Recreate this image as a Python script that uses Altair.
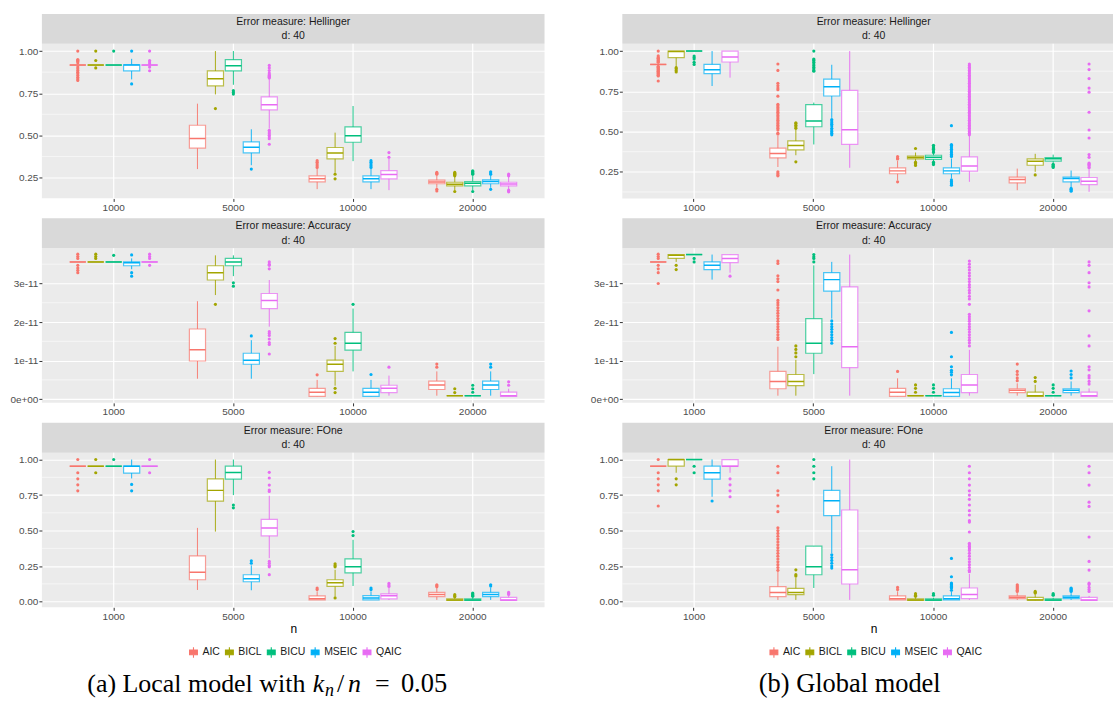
import altair as alt
import pandas as pd

METHODS = ["AIC", "BICL", "BICU", "MSEIC", "QAIC"]
N_VALUES = ["1000", "5000", "10000", "20000"]
COLORS = ["#F8766D", "#A3A500", "#00BF7D", "#00B0F6", "#E76BF3"]

# each box: (lower whisker, q1, median, q3, upper whisker, [outliers]); one row per n, one box per method
LOCAL_HELLINGER = [
    [(0.917, 0.917, 0.917, 0.917, 0.917, [1.0, 0.95, 0.945, 0.94, 0.93, 0.905, 0.895, 0.885, 0.875, 0.865, 0.855, 0.845, 0.835, 0.826]),
     (0.917, 0.917, 0.917, 0.917, 0.917, [1.0, 0.944, 0.90]),
     (0.917, 0.917, 0.917, 0.917, 0.917, [1.0]),
     (0.832, 0.882, 0.917, 0.919, 0.954, [1.0, 0.805]),
     (0.917, 0.917, 0.917, 0.917, 0.917, [1.0, 0.944, 0.935, 0.925, 0.905, 0.883])],
    [(0.30, 0.424, 0.481, 0.56, 0.688, []),
     (0.743, 0.793, 0.836, 0.882, 1.0, [0.659]),
     (0.80, 0.882, 0.913, 0.949, 1.0, [0.765, 0.755, 0.745]),
     (0.323, 0.396, 0.43, 0.461, 0.536, [0.30]),
     (0.54, 0.651, 0.682, 0.728, 0.835, [0.915, 0.90, 0.885, 0.87, 0.86, 0.855, 0.85, 0.845, 0.84, 0.53, 0.52, 0.51, 0.50, 0.49, 0.48, 0.447])],
    [(0.181, 0.224, 0.242, 0.26, 0.303, [0.35, 0.34, 0.33, 0.32, 0.31]),
     (0.28, 0.361, 0.396, 0.428, 0.516, [0.27, 0.242]),
     (0.347, 0.459, 0.497, 0.55, 0.674, []),
     (0.181, 0.224, 0.242, 0.26, 0.303, [0.35, 0.34, 0.33, 0.32, 0.31]),
     (0.175, 0.242, 0.268, 0.291, 0.368, [0.398, 0.37])],
    [(0.189, 0.213, 0.224, 0.234, 0.264, [0.28, 0.275, 0.27, 0.18, 0.17]),
     (0.175, 0.20, 0.21, 0.222, 0.254, [0.28, 0.275, 0.27, 0.265, 0.26, 0.167]),
     (0.175, 0.20, 0.216, 0.226, 0.264, [0.29, 0.285, 0.28, 0.275, 0.27, 0.167]),
     (0.189, 0.213, 0.226, 0.236, 0.264, [0.284, 0.277, 0.27, 0.18]),
     (0.18, 0.20, 0.212, 0.222, 0.255, [0.27, 0.265, 0.26, 0.175, 0.17, 0.165])],
]

GLOBAL_HELLINGER = [
    [(0.917, 0.917, 0.917, 0.917, 0.917, [1.0, 0.97, 0.96, 0.955, 0.95, 0.945, 0.94, 0.935, 0.93, 0.905, 0.90, 0.895, 0.89, 0.885, 0.88, 0.875, 0.87, 0.865, 0.86, 0.855, 0.85, 0.845, 0.814]),
     (0.90, 0.959, 0.998, 1.0, 1.0, [0.897, 0.89, 0.88, 0.87]),
     (1.0, 1.0, 1.0, 1.0, 1.0, [0.969, 0.96, 0.95, 0.93, 0.917]),
     (0.783, 0.86, 0.884, 0.917, 1.0, []),
     (0.835, 0.932, 0.963, 1.0, 1.0, [])],
    [(0.28, 0.337, 0.364, 0.397, 0.475, [0.92, 0.88, 0.80, 0.785, 0.77, 0.76, 0.72, 0.67, 0.66, 0.65, 0.64, 0.63, 0.62, 0.61, 0.60, 0.59, 0.58, 0.57, 0.56, 0.55, 0.54, 0.53, 0.52, 0.51, 0.49, 0.485, 0.25, 0.24, 0.23, 0.225]),
     (0.353, 0.386, 0.413, 0.442, 0.51, [0.555, 0.55, 0.54, 0.53, 0.52, 0.312]),
     (0.42, 0.53, 0.566, 0.667, 0.68, [1.0, 0.95, 0.945, 0.94, 0.93, 0.92, 0.91, 0.90, 0.89, 0.88, 0.875]),
     (0.585, 0.721, 0.779, 0.826, 0.915, [0.575, 0.565, 0.555, 0.545, 0.535, 0.52, 0.51, 0.50, 0.49, 0.48]),
     (0.275, 0.42, 0.512, 0.756, 1.0, [])],
    [(0.198, 0.238, 0.256, 0.275, 0.318, [0.345, 0.335, 0.33, 0.188]),
     (0.312, 0.331, 0.339, 0.347, 0.37, [0.395, 0.31, 0.305, 0.30, 0.29]),
     (0.315, 0.328, 0.341, 0.353, 0.365, [0.415, 0.41, 0.40, 0.395, 0.39, 0.38, 0.37, 0.31, 0.305, 0.30, 0.295]),
     (0.21, 0.238, 0.256, 0.275, 0.333, [0.537, 0.42, 0.415, 0.41, 0.40, 0.39, 0.38, 0.37, 0.36, 0.35, 0.345, 0.20, 0.19, 0.18, 0.175, 0.167]),
     (0.188, 0.254, 0.287, 0.343, 0.475, [0.92, 0.91, 0.90, 0.89, 0.88, 0.87, 0.86, 0.85, 0.84, 0.83, 0.82, 0.81, 0.80, 0.79, 0.78, 0.77, 0.76, 0.75, 0.74, 0.73, 0.72, 0.71, 0.70, 0.69, 0.68, 0.67, 0.66, 0.65, 0.64, 0.63, 0.62, 0.61, 0.60, 0.59, 0.58, 0.57, 0.56, 0.55, 0.54, 0.53, 0.52, 0.51, 0.50, 0.49, 0.48])],
    [(0.136, 0.182, 0.202, 0.217, 0.27, []),
     (0.25, 0.291, 0.316, 0.331, 0.362, [0.231]),
     (0.305, 0.316, 0.331, 0.339, 0.357, [0.297, 0.29, 0.285, 0.277]),
     (0.155, 0.188, 0.209, 0.217, 0.258, [0.147, 0.14, 0.137, 0.13]),
     (0.126, 0.171, 0.192, 0.215, 0.265, [0.92, 0.885, 0.829, 0.77, 0.745, 0.62, 0.51, 0.46, 0.357, 0.34, 0.305, 0.30, 0.295, 0.29, 0.28, 0.275])],
]

# Accuracy values are in units of 1e-11
LOCAL_ACCURACY = [
    [(3.56, 3.56, 3.56, 3.56, 3.56, [3.76, 3.70, 3.65, 3.47, 3.40, 3.34, 3.28]),
     (3.56, 3.56, 3.56, 3.56, 3.56, [3.76, 3.70, 3.65]),
     (3.56, 3.56, 3.56, 3.56, 3.56, [3.73]),
     (3.37, 3.46, 3.54, 3.56, 3.65, [3.74, 3.28, 3.19]),
     (3.56, 3.56, 3.56, 3.56, 3.56, [3.76, 3.70, 3.65, 3.47])],
    [(0.53, 0.99, 1.28, 1.82, 2.54, []),
     (2.70, 3.09, 3.28, 3.46, 3.73, [2.46]),
     (3.19, 3.46, 3.56, 3.65, 3.73, [3.02, 2.93]),
     (0.53, 0.905, 1.01, 1.19, 1.53, [1.64]),
     (1.88, 2.35, 2.56, 2.74, 3.09, [3.56, 3.50, 3.47, 3.38, 1.75, 1.70, 1.65, 1.56, 1.47, 1.42, 1.17])],
    [(0.07, 0.07, 0.18, 0.28, 0.50, [0.63]),
     (0.35, 0.72, 0.905, 1.01, 1.38, [1.57, 1.45, 0.28, 0.17]),
     (0.72, 1.27, 1.45, 1.73, 2.35, [2.46]),
     (0.07, 0.07, 0.18, 0.28, 0.50, [0.64]),
     (0.09, 0.17, 0.28, 0.36, 0.61, [0.83])],
    [(0.09, 0.25, 0.37, 0.47, 0.72, [0.91, 0.83]),
     (0.09, 0.09, 0.09, 0.09, 0.09, [0.27, 0.17]),
     (0.09, 0.09, 0.09, 0.09, 0.09, [0.36, 0.27, 0.18]),
     (0.09, 0.25, 0.37, 0.47, 0.72, [0.91, 0.83]),
     (0.07, 0.07, 0.09, 0.18, 0.27, [0.45, 0.36])],
]

GLOBAL_ACCURACY = [
    [(3.56, 3.56, 3.56, 3.56, 3.56, [3.76, 3.70, 3.65, 3.47, 3.38, 3.28, 3.0]),
     (3.56, 3.65, 3.73, 3.75, 3.75, [3.47, 3.36]),
     (3.75, 3.75, 3.75, 3.75, 3.75, [3.65, 3.56]),
     (3.10, 3.36, 3.47, 3.56, 3.75, []),
     (3.28, 3.54, 3.65, 3.75, 3.75, [3.19])],
    [(0.09, 0.27, 0.46, 0.72, 1.36, [3.58, 3.52, 3.20, 3.12, 3.05, 2.83, 2.56, 2.50, 2.44, 2.37, 2.30, 2.23, 2.16, 2.09, 2.02, 1.95, 1.88, 1.81, 1.74, 1.67, 1.60, 1.55]),
     (0.09, 0.35, 0.46, 0.64, 1.02, [1.38, 1.29, 1.20, 1.10]),
     (0.65, 1.19, 1.45, 2.09, 3.47, [3.75, 3.69, 3.65, 3.56]),
     (2.09, 2.80, 3.10, 3.28, 3.56, [2.03, 1.95, 1.88, 1.81, 1.74, 1.67, 1.60, 1.53, 1.45]),
     (0.09, 0.82, 1.36, 2.91, 3.75, [])],
    [(0.07, 0.07, 0.18, 0.28, 0.54, [0.72]),
     (0.09, 0.09, 0.09, 0.09, 0.09, [0.37, 0.28, 0.18]),
     (0.09, 0.09, 0.09, 0.09, 0.09, [0.37, 0.28, 0.18]),
     (0.07, 0.07, 0.17, 0.27, 0.54, [1.73, 1.10, 0.84, 0.75, 0.70, 0.63]),
     (0.09, 0.17, 0.37, 0.64, 1.28, [3.58, 3.50, 3.42, 3.35, 3.27, 3.20, 3.12, 3.05, 2.97, 2.90, 2.82, 2.75, 2.67, 2.60, 2.46, 2.20, 2.14, 2.08, 2.02, 1.95, 1.88, 1.81, 1.74, 1.67, 1.60, 1.53, 1.46, 1.38])],
    [(0.09, 0.17, 0.23, 0.27, 0.41, [0.91, 0.72, 0.64, 0.55, 0.48]),
     (0.07, 0.07, 0.09, 0.18, 0.37, [0.56, 0.46]),
     (0.09, 0.09, 0.09, 0.09, 0.09, [0.37, 0.28, 0.18]),
     (0.09, 0.17, 0.23, 0.27, 0.46, [0.73, 0.64, 0.55]),
     (0.07, 0.07, 0.09, 0.18, 0.28, [3.56, 3.47, 3.28, 3.02, 2.91, 2.29, 1.64, 1.38, 0.84, 0.76, 0.61, 0.55, 0.46, 0.39])],
]

LOCAL_FONE = [
    [(0.953, 0.953, 0.953, 0.953, 0.953, [1.0, 0.907, 0.864, 0.822, 0.78]),
     (0.953, 0.953, 0.953, 0.953, 0.953, [1.0, 0.907]),
     (0.953, 0.953, 0.953, 0.953, 0.953, [1.0]),
     (0.867, 0.905, 0.953, 0.953, 1.0, [0.825, 0.78]),
     (0.953, 0.953, 0.953, 0.953, 0.953, [1.0, 0.907])],
    [(0.082, 0.154, 0.206, 0.322, 0.519, []),
     (0.493, 0.708, 0.783, 0.864, 1.0, []),
     (0.75, 0.862, 0.909, 0.953, 1.0, [0.68, 0.66]),
     (0.08, 0.14, 0.161, 0.189, 0.255, [0.287, 0.27]),
     (0.306, 0.463, 0.519, 0.579, 0.745, [0.91, 0.87, 0.82, 0.785, 0.775, 0.283, 0.27, 0.255, 0.245, 0.19])],
    [(0.012, 0.012, 0.021, 0.04, 0.072, [0.096, 0.085]),
     (0.037, 0.107, 0.133, 0.154, 0.224, [0.266, 0.255, 0.245, 0.026]),
     (0.11, 0.203, 0.245, 0.301, 0.435, [0.493, 0.465]),
     (0.012, 0.012, 0.026, 0.042, 0.072, [0.096, 0.085]),
     (0.012, 0.019, 0.042, 0.054, 0.096, [0.128, 0.117, 0.107])],
    [(0.012, 0.035, 0.051, 0.065, 0.10, [0.119, 0.112, 0.105]),
     (0.009, 0.009, 0.012, 0.019, 0.028, [0.049, 0.04, 0.035]),
     (0.009, 0.009, 0.012, 0.019, 0.028, [0.06, 0.055, 0.049, 0.043, 0.037]),
     (0.012, 0.035, 0.051, 0.065, 0.10, [0.119, 0.11]),
     (0.009, 0.009, 0.012, 0.03, 0.04, [0.065, 0.058, 0.051])],
]

GLOBAL_FONE = [
    [(0.953, 0.953, 0.953, 0.953, 0.953, [1.0, 0.907, 0.864, 0.822, 0.78, 0.673]),
     (0.907, 0.953, 1.0, 1.0, 1.0, [0.864, 0.822]),
     (1.0, 1.0, 1.0, 1.0, 1.0, [0.953, 0.907]),
     (0.738, 0.862, 0.907, 0.953, 1.0, [0.708]),
     (0.907, 0.953, 0.953, 1.0, 1.0, [0.864, 0.822, 0.78, 0.738])],
    [(0.012, 0.035, 0.065, 0.105, 0.213, [0.953, 0.907, 0.78, 0.75, 0.673, 0.633, 0.52, 0.50, 0.48, 0.46, 0.44, 0.42, 0.40, 0.38, 0.36, 0.34, 0.32, 0.30, 0.28, 0.26, 0.24, 0.22]),
     (0.012, 0.049, 0.065, 0.093, 0.166, [0.224, 0.19, 0.18]),
     (0.096, 0.189, 0.245, 0.39, 0.39, [1.0, 0.953, 0.907, 0.864]),
     (0.341, 0.605, 0.71, 0.783, 0.953, [0.33, 0.31, 0.29, 0.27, 0.25, 0.236]),
     (0.012, 0.124, 0.224, 0.645, 1.0, [])],
    [(0.012, 0.012, 0.021, 0.04, 0.072, [0.10, 0.085]),
     (0.009, 0.009, 0.012, 0.019, 0.028, [0.056, 0.045, 0.037]),
     (0.009, 0.009, 0.012, 0.019, 0.028, [0.056, 0.045]),
     (0.012, 0.012, 0.021, 0.04, 0.072, [0.304, 0.175, 0.131, 0.125, 0.12, 0.112, 0.107, 0.10, 0.096, 0.08]),
     (0.012, 0.021, 0.051, 0.096, 0.194, [0.953, 0.907, 0.864, 0.82, 0.78, 0.75, 0.72, 0.68, 0.64, 0.61, 0.57, 0.56, 0.49, 0.41, 0.40, 0.39, 0.38, 0.37, 0.36, 0.34, 0.32, 0.30, 0.28, 0.26, 0.24, 0.22, 0.21])],
    [(0.012, 0.021, 0.03, 0.04, 0.06, [0.119, 0.11, 0.103, 0.096, 0.088, 0.08, 0.072]),
     (0.009, 0.012, 0.012, 0.03, 0.051, [0.072, 0.065, 0.06]),
     (0.009, 0.009, 0.012, 0.019, 0.028, [0.056, 0.049, 0.045]),
     (0.012, 0.021, 0.03, 0.04, 0.06, [0.096, 0.09, 0.085, 0.078, 0.072]),
     (0.009, 0.009, 0.012, 0.03, 0.04, [0.953, 0.907, 0.82, 0.70, 0.67, 0.455, 0.283, 0.222, 0.13, 0.12, 0.10, 0.085, 0.072])],
]

HELL_TICKS = [0.25, 0.50, 0.75, 1.00]
HELL_MINOR = [0.125, 0.375, 0.625, 0.875]
ACC_TICKS = [0, 1, 2, 3]
ACC_MINOR = [0.5, 1.5, 2.5, 3.5]
FONE_TICKS = [0.0, 0.25, 0.50, 0.75, 1.00]
FONE_MINOR = [0.125, 0.375, 0.625, 0.875]

FMT2 = "format(datum.value, '.2f')"
FMT_E = "datum.value == 0 ? '0e+00' : datum.value + 'e-11'"

FULL_W = 504
PLOT_H = 155
FONT = "Liberation Sans"
SERIF = "Liberation Serif"
BOX_PATH = "M-0.75,-0.45H0.75V0.45H-0.75Z M-0.75,0H0.75 M0,-0.45V-1 M0,0.45V1"
ONE = pd.DataFrame({"k": [0]})
CAP_BASE = 240


def frames(stats):
    boxes, outs = [], []
    for n, row in zip(N_VALUES, stats):
        for m, (lo, q1, med, q3, hi, ol) in zip(METHODS, row):
            boxes.append(dict(n=n, method=m, lo=lo, q1=q1, med=med, q3=q3, hi=hi))
            for v in ol:
                outs.append(dict(n=n, method=m, v=v))
    return pd.DataFrame(boxes), pd.DataFrame(outs)


def row_chart(stats, measure, y_dom, ticks, minor, fmt, view_w, pad_outer, align,
              bottom=False, caption=None):
    box_df, out_df = frames(stats)
    x_axis = alt.Axis(title="n" if bottom else None, labelAngle=0, grid=False, bandPosition=0.5,
                      titleX=FULL_W / 2, titleAlign="center", titlePadding=2)
    X = alt.X("n:N", sort=N_VALUES,
              scale=alt.Scale(domain=N_VALUES, paddingInner=0, paddingOuter=pad_outer, align=align),
              axis=x_axis)
    XO = alt.XOffset("method:N", sort=METHODS,
                     scale=alt.Scale(domain=METHODS, paddingInner=0.1, paddingOuter=0.883))
    ys = alt.Scale(domain=y_dom, nice=False, zero=False)
    y_axis = alt.Axis(values=ticks, labelExpr=fmt, title=None, grid=True)
    if bottom:
        leg = alt.Legend(orient="none", legendX=146, legendY=194, direction="horizontal", title=None,
                         symbolType=BOX_PATH, symbolSize=110, symbolStrokeWidth=1.1,
                         symbolFillColor="white", labelFont=FONT, labelFontSize=10.5,
                         labelColor="#1A1A1A", labelOffset=3, columnPadding=2, padding=0)
    else:
        leg = None
    cscale = alt.Scale(domain=METHODS, range=COLORS)
    C = alt.Color("method:N", sort=METHODS, scale=cscale, legend=leg)
    F = alt.Fill("method:N", sort=METHODS, scale=cscale, legend=None)

    strip = alt.Chart(ONE).mark_rect(color="#D9D9D9").encode(
        x=alt.value(0), x2=alt.value(view_w), y=alt.value(-30), y2=alt.value(0))
    t1 = alt.Chart(ONE).mark_text(font=FONT, fontSize=10.5, color="#1A1A1A", baseline="middle").encode(
        x=alt.value(FULL_W / 2), y=alt.value(-22), text=alt.value("Error measure: " + measure))
    t2 = alt.Chart(ONE).mark_text(font=FONT, fontSize=10.5, color="#1A1A1A", baseline="middle").encode(
        x=alt.value(FULL_W / 2), y=alt.value(-7.5), text=alt.value("d: 40"))
    grid = alt.Chart(pd.DataFrame({"v": minor})).mark_rule(color="white", strokeWidth=0.55).encode(
        y=alt.Y("v:Q", scale=ys, axis=y_axis))
    vgrid = alt.Chart(pd.DataFrame({"n": N_VALUES})).mark_rule(color="white", strokeWidth=1.2).encode(
        x=X)
    base = alt.Chart(box_df)
    whisk = base.mark_rule(strokeWidth=0.9).encode(
        x=X, xOffset=XO, y=alt.Y("lo:Q", scale=ys, axis=y_axis), y2="hi:Q", color=C)
    box = base.mark_bar(filled=False, fill="white", strokeWidth=1.2, strokeOpacity=0.7).encode(
        x=X, xOffset=XO, y=alt.Y("q1:Q", scale=ys, axis=y_axis), y2="q3:Q", color=C)
    med = base.mark_bar(filled=False, strokeWidth=1.5).encode(
        x=X, xOffset=XO, y=alt.Y("med:Q", scale=ys, axis=y_axis), y2="med:Q", color=C)
    pts = alt.Chart(out_df).mark_circle(size=10, opacity=1).encode(
        x=X, xOffset=XO, y=alt.Y("v:Q", scale=ys, axis=y_axis), fill=F)
    layers = [strip, t1, t2, grid, vgrid, whisk, box, med, pts]
    if caption is not None:
        for txt, xpos, dy, size, style, align_ in caption:
            layers.append(alt.Chart(ONE).mark_text(font=SERIF, fontSize=size, fontStyle=style, color="black",
                                                   align=align_, baseline="alphabetic").encode(
                x=alt.value(xpos), y=alt.value(CAP_BASE + dy), text=alt.value(txt)))
    return alt.layer(*layers).properties(width=view_w, height=PLOT_H)


CAP_A = [("(a) Local model with", 45.5, 0, 26, "normal", "left"),
         ("k", 271.6, 0, 26, "italic", "left"),
         ("n", 284, 4, 18, "italic", "left"),
         ("/", 296, 0, 26, "normal", "left"),
         ("n", 307, 0, 26, "italic", "left"),
         ("=", 334, 0, 26, "normal", "left"),
         ("0.05", 360, 0, 26.5, "normal", "left")]
CAP_B = [("(b) Global model", 228, 0, 26.5, "normal", "center")]

LW, RW = 504, 492
left = alt.vconcat(
    row_chart(LOCAL_HELLINGER, "Hellinger", [0.126, 1.043], HELL_TICKS, HELL_MINOR, FMT2, LW, 0.1, 0.5),
    row_chart(LOCAL_ACCURACY, "Accuracy", [-0.096, 3.913], ACC_TICKS, ACC_MINOR, FMT_E, LW, 0.1, 0.5),
    row_chart(LOCAL_FONE, "FOne", [-0.04, 1.048], FONE_TICKS, FONE_MINOR, FMT2, LW, 0.1, 0.5,
              bottom=True, caption=CAP_A),
    spacing=6).resolve_scale(color="independent", fill="independent", x="independent", y="independent")
right = alt.vconcat(
    row_chart(GLOBAL_HELLINGER, "Hellinger", [0.085, 1.045], HELL_TICKS, HELL_MINOR, FMT2, RW, 0.05, 1),
    row_chart(GLOBAL_ACCURACY, "Accuracy", [-0.096, 3.913], ACC_TICKS, ACC_MINOR, FMT_E, RW, 0.05, 1),
    row_chart(GLOBAL_FONE, "FOne", [-0.04, 1.048], FONE_TICKS, FONE_MINOR, FMT2, RW, 0.05, 1,
              bottom=True, caption=CAP_B),
    spacing=6).resolve_scale(color="independent", fill="independent", x="independent", y="independent")

chart = alt.hconcat(left, right, spacing=44).resolve_scale(color="independent", fill="independent").properties(
    padding={"left": 9, "top": 13, "right": 0, "bottom": 0}
).configure_view(fill="#EBEBEB", stroke=None).configure_axis(
    domain=False, tickColor="#333333", tickSize=3, tickWidth=1, labelColor="#4D4D4D", labelFont=FONT,
    labelFontSize=10, gridColor="#FFFFFF", gridWidth=1.1, titleFont=FONT, titleFontSize=12,
    titleFontWeight="normal", titleColor="#000000"
).configure_axisX(labelPadding=1).configure_axisY(labelPadding=1)

chart.save("out.html", embed_options={"renderer": "svg", "actions": False})
